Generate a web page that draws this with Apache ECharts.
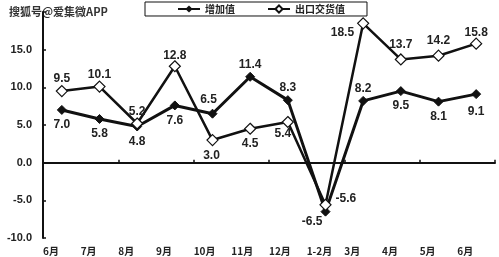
<!DOCTYPE html>
<html><head><meta charset="utf-8">
<script src="https://cdn.jsdelivr.net/npm/echarts@6/dist/echarts.min.js"></script>
<style>html,body{margin:0;padding:0;background:#fff}#c{width:499px;height:257px}</style>
</head><body><div id="c"></div>
<script>
const categories = ['6月','7月','8月','9月','10月','11月','12月','1-2月','3月','4月','5月','6月'];
const addedValue = [7.0, 5.8, 4.8, 7.6, 6.5, 11.4, 8.3, -6.5, 8.2, 9.5, 8.1, 9.1];
const exportValue = [9.5, 10.1, 5.2, 12.8, 3.0, 4.5, 5.4, -5.6, 18.5, 13.7, 14.2, 15.8];
const seriesNames = ['增加值', '出口交货值'];

const addedPos = ['bottom','bottom','bottom','bottom','top','top','top','left','top','bottom','bottom','bottom'];
const exportPos = ['top','top','top','top','bottom','bottom','bottom','right','left','top','top','top'];

const font = 'Liberation Sans, Arial, sans-serif';
function mk(vals, pos, extra, topOff) {
  return vals.map((v, i) => {
    const o = { value: v, label: { position: pos[i] } };
    if (pos[i] === 'top') o.label.offset = [0, topOff];
    if (extra && extra[i]) Object.assign(o.label, extra[i]);
    return o;
  });
}
const addedExtra = {7: {position: 'left', offset: [6, 10]}, 11: {offset: [0, 3]}, 4: {offset: [-4, 1]}};
const exportExtra = {8: {position: 'left', offset: [0, 9]}, 6: {position: 'bottom', offset: [-5, -3]}, 4: {offset: [-1, 1]}, 7: {offset: [1, -6]}, 9: {offset: [0, 0]}, 10: {offset: [0, 0]}, 11: {offset: [0, 4]}, 3: {offset: [0, 5]}};

const chart = echarts.init(document.getElementById('c'));
chart.setOption({
  animation: false,
  textStyle: { fontFamily: font },
  graphic: [{
    type: 'text', left: 8, top: 5,
    style: { text: '搜狐号@爱集微APP', fill: '#333', stroke: '#fff', lineWidth: 2, font: 'bold 11px "Noto Sans CJK SC", sans-serif' }
  }],
  legend: {
    top: 2, left: 145,
    borderColor: '#111', borderWidth: 1, borderRadius: 0,
    padding: [2, 22, 2, 32], itemGap: 32, itemWidth: 22, itemHeight: 9,
    textStyle: { color: '#222', fontSize: 10, fontWeight: 'bold', fontFamily: '"Noto Sans CJK SC", sans-serif' },
    data: seriesNames
  },
  grid: { left: 43, right: 4, top: 12, bottom: 19 },
  xAxis: [{
    type: 'category', data: categories, boundaryGap: true,
    axisLine: { lineStyle: { color: '#111', width: 2 } },
    axisTick: { show: true, inside: true, length: 3, lineStyle: { color: '#111', width: 1.5 } },
    axisLabel: { show: false }
  }, {
    type: 'category', position: 'bottom', data: categories.concat(['']), boundaryGap: false,
    axisLine: { show: false }, axisTick: { show: false },
    axisLabel: { show: true, interval: 0, align: 'left', margin: 8, color: '#222', fontSize: 10, fontWeight: 'bold', fontFamily: '"Noto Sans CJK SC", sans-serif' }
  }],
  yAxis: {
    type: 'value', min: -10, max: 20, interval: 5,
    splitLine: { show: false },
    axisLine: { show: true, lineStyle: { color: '#111', width: 2 } },
    axisTick: { show: true, inside: true, length: 3, lineStyle: { color: '#111', width: 1.5 } },
    axisLabel: { color: '#222', fontSize: 11, fontWeight: 'bold', margin: 11,
      formatter: v => v === 20 ? '' : v.toFixed(1) }
  },
  series: [{
    name: seriesNames[0], type: 'line', xAxisIndex: 0,
    data: mk(addedValue, addedPos, addedExtra, 3),
    symbol: 'diamond', symbolSize: 9,
    lineStyle: { color: '#111', width: 3 },
    itemStyle: { color: '#111', borderColor: '#111' },
    label: { show: true, color: '#222', fontSize: 12, fontWeight: 'bold', distance: 4, formatter: p => p.value.toFixed(1) }
  }, {
    name: seriesNames[1], type: 'line', xAxisIndex: 0,
    data: mk(exportValue, exportPos, exportExtra, 3),
    symbol: 'diamond', symbolSize: 11,
    lineStyle: { color: '#111', width: 2.5 },
    itemStyle: { color: '#fff', borderColor: '#111', borderWidth: 1.2 },
    label: { show: true, color: '#222', fontSize: 12, fontWeight: 'bold', distance: 3, formatter: p => p.value.toFixed(1) }
  }]
});
</script></body></html>
